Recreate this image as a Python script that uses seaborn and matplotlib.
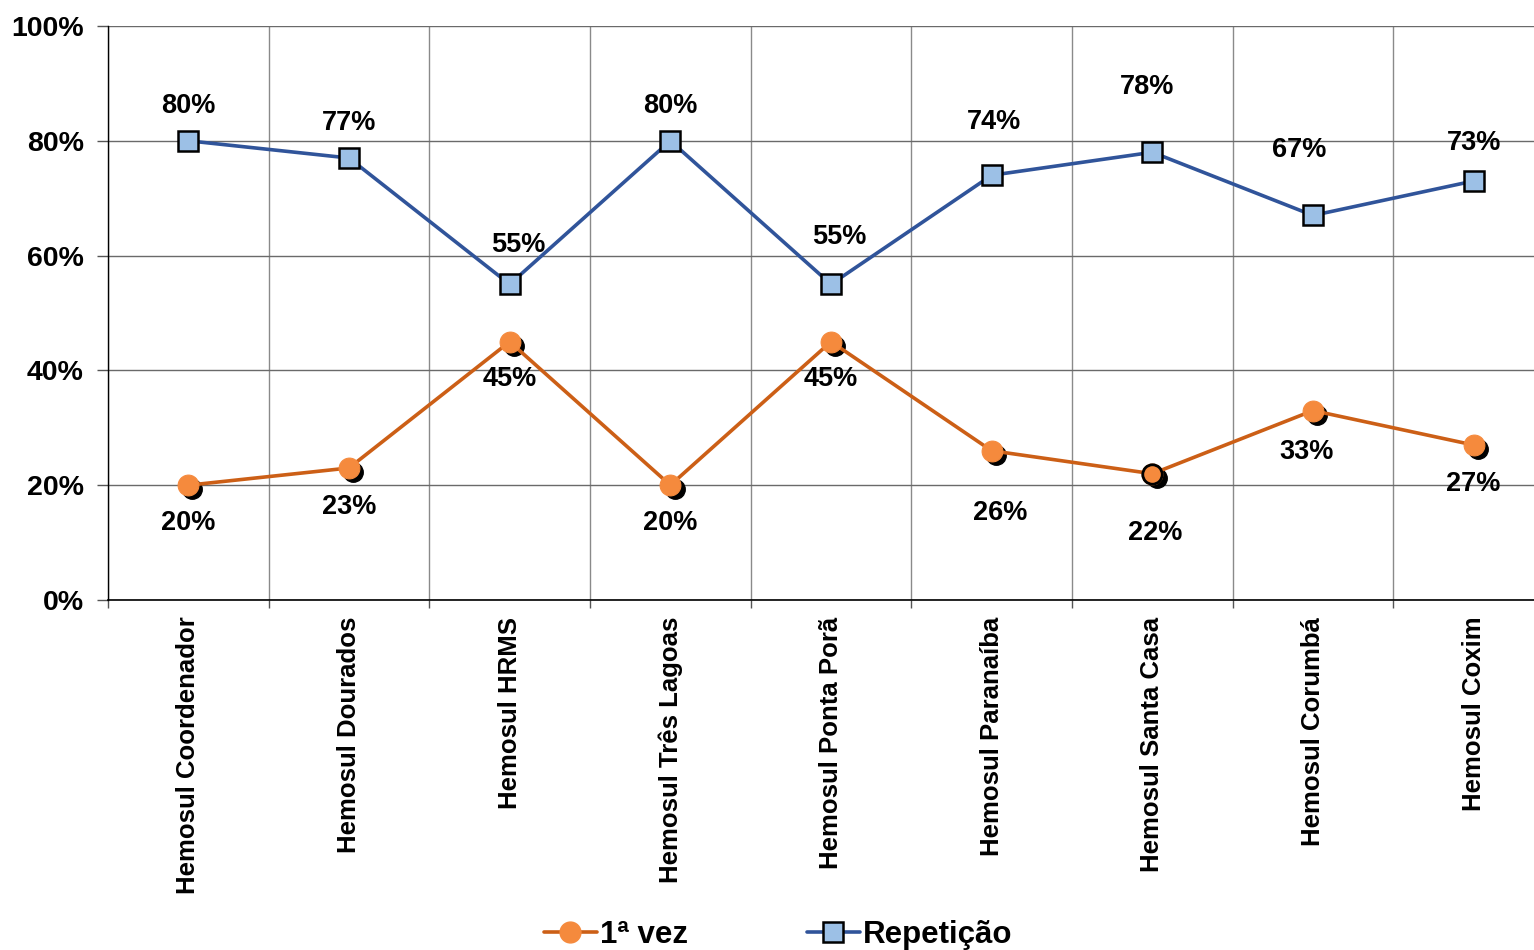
import matplotlib
matplotlib.use('Agg')
import matplotlib.pyplot as plt
import matplotlib.transforms as mtransforms
import numpy as np
import pandas as pd
import seaborn as sns
from matplotlib.lines import Line2D

sns.set_theme(style='white')
plt.rcParams['font.family'] = ['Liberation Sans', 'DejaVu Sans']
plt.rcParams['font.weight'] = 'bold'
plt.rcParams['text.color'] = 'black'
plt.rcParams['xtick.labelcolor'] = 'black'
plt.rcParams['ytick.labelcolor'] = 'black'

categorias = ['Hemosul Coordenador', 'Hemosul Dourados', 'Hemosul HRMS', 'Hemosul Três Lagoas',
              'Hemosul Ponta Porã', 'Hemosul Paranaíba', 'Hemosul Santa Casa', 'Hemosul Corumbá',
              'Hemosul Coxim']
primeira_vez = [20, 23, 45, 20, 45, 26, 22, 33, 27]
repeticao = [80, 77, 55, 80, 55, 74, 78, 67, 73]
yticks = [0, 20, 40, 60, 80, 100]

# label offsets in points (label placement only)
off_rep = [(0, 25), (0, 25), (6, 28), (0, 25), (6, 34), (2, 38), (-4, 47), (-10, 47), (0, 27)]
off_pri = [(0, -27), (0, -28), (0, -27), (0, -27), (0, -27), (6, -45), (2, -43), (-5, -30), (0, -28)]

df = pd.DataFrame({'pos': np.arange(len(categorias)), 'cat': categorias,
                   'pri': primeira_vez, 'rep': repeticao})

c_or_line = '#CC5F16'
c_or_fill = '#F58A3D'
c_bl_line = '#30549A'
c_bl_fill = '#9CC0E6'

fig = plt.figure(figsize=(15.34, 9.5), dpi=100)
ax = fig.add_axes([108/1534, 350/950, 1446/1534, 574/950])

# shadow under the orange markers
shadow = ax.transData + mtransforms.ScaledTranslation(3/72, -3/72, fig.dpi_scale_trans)
ax.plot(df['pos'], df['pri'], 'o', color='black', markersize=14, transform=shadow, zorder=2)

sns.lineplot(data=df, x='pos', y='pri', ax=ax, color=c_or_line, linewidth=2.6, marker='o',
             markersize=15, markerfacecolor=c_or_fill, markeredgecolor=c_or_fill, zorder=3)
sc = df.iloc[[6]]
ax.plot(sc['pos'], sc['pri'], 'o', markersize=14, markerfacecolor=c_or_fill,
        markeredgecolor='black', markeredgewidth=2, zorder=4)
sns.lineplot(data=df, x='pos', y='rep', ax=ax, color=c_bl_line, linewidth=2.6, marker='s',
             markersize=14, markerfacecolor=c_bl_fill, markeredgecolor='black',
             markeredgewidth=1.8, zorder=3)

for i, row in df.iterrows():
    ax.annotate(f"{row['rep']}%", (row['pos'], row['rep']), xytext=off_rep[i],
                textcoords='offset points', ha='center', va='center', fontsize=19.5,
                fontweight='bold', color='black', zorder=5)
    ax.annotate(f"{row['pri']}%", (row['pos'], row['pri']), xytext=off_pri[i],
                textcoords='offset points', ha='center', va='center', fontsize=19.5,
                fontweight='bold', color='black', zorder=5)

ax.set_xlim(-0.5, len(categorias) - 0.5)
ax.set_ylim(0, 100)
ax.set_yticks(yticks)
ax.set_yticklabels([f'{v}%' for v in yticks], fontsize=20.5, fontweight='bold')
ax.set_xticks(df['pos'])
ax.set_xticklabels(categorias, rotation=90, fontsize=18.5, fontweight='bold', va='top')
ax.set_xticks(np.arange(-0.5, len(categorias)), minor=True)
ax.tick_params(axis='x', which='major', length=0, pad=12)
ax.tick_params(axis='x', which='minor', length=6, width=1, color='#555555', direction='out', bottom=True)
ax.tick_params(axis='y', length=8, width=1, color='#555555', direction='out', left=True, pad=9.5)
ax.set_xlabel('')
ax.set_ylabel('')

ax.grid(axis='y', which='major', color='#6a6a6a', linewidth=1)
ax.grid(axis='x', which='minor', color='#8a8a8a', linewidth=1)
ax.grid(axis='x', which='major', visible=False)
ax.set_axisbelow(True)
for s in ['top', 'right']:
    ax.spines[s].set_visible(False)
ax.spines['left'].set_color('black')
ax.spines['bottom'].set_color('black')
ax.spines['left'].set_linewidth(1)
ax.spines['bottom'].set_linewidth(1.2)

handles = [Line2D([], [], color=c_or_line, linewidth=2.6, marker='o', markersize=15,
                  markerfacecolor=c_or_fill, markeredgecolor=c_or_fill),
           Line2D([], [], color=c_bl_line, linewidth=2.6, marker='s', markersize=14,
                  markerfacecolor=c_bl_fill, markeredgecolor='black', markeredgewidth=1.8)]
fig.legend(handles, ['1ª vez', 'Repetição'], loc='center', bbox_to_anchor=(778/1534, 1 - 935/950),
           ncol=2, frameon=False, handlelength=1.7, handletextpad=0.1,
           columnspacing=3.8, prop={'weight': 'bold', 'size': 22.5})

fig.savefig('out.png', dpi=100)
